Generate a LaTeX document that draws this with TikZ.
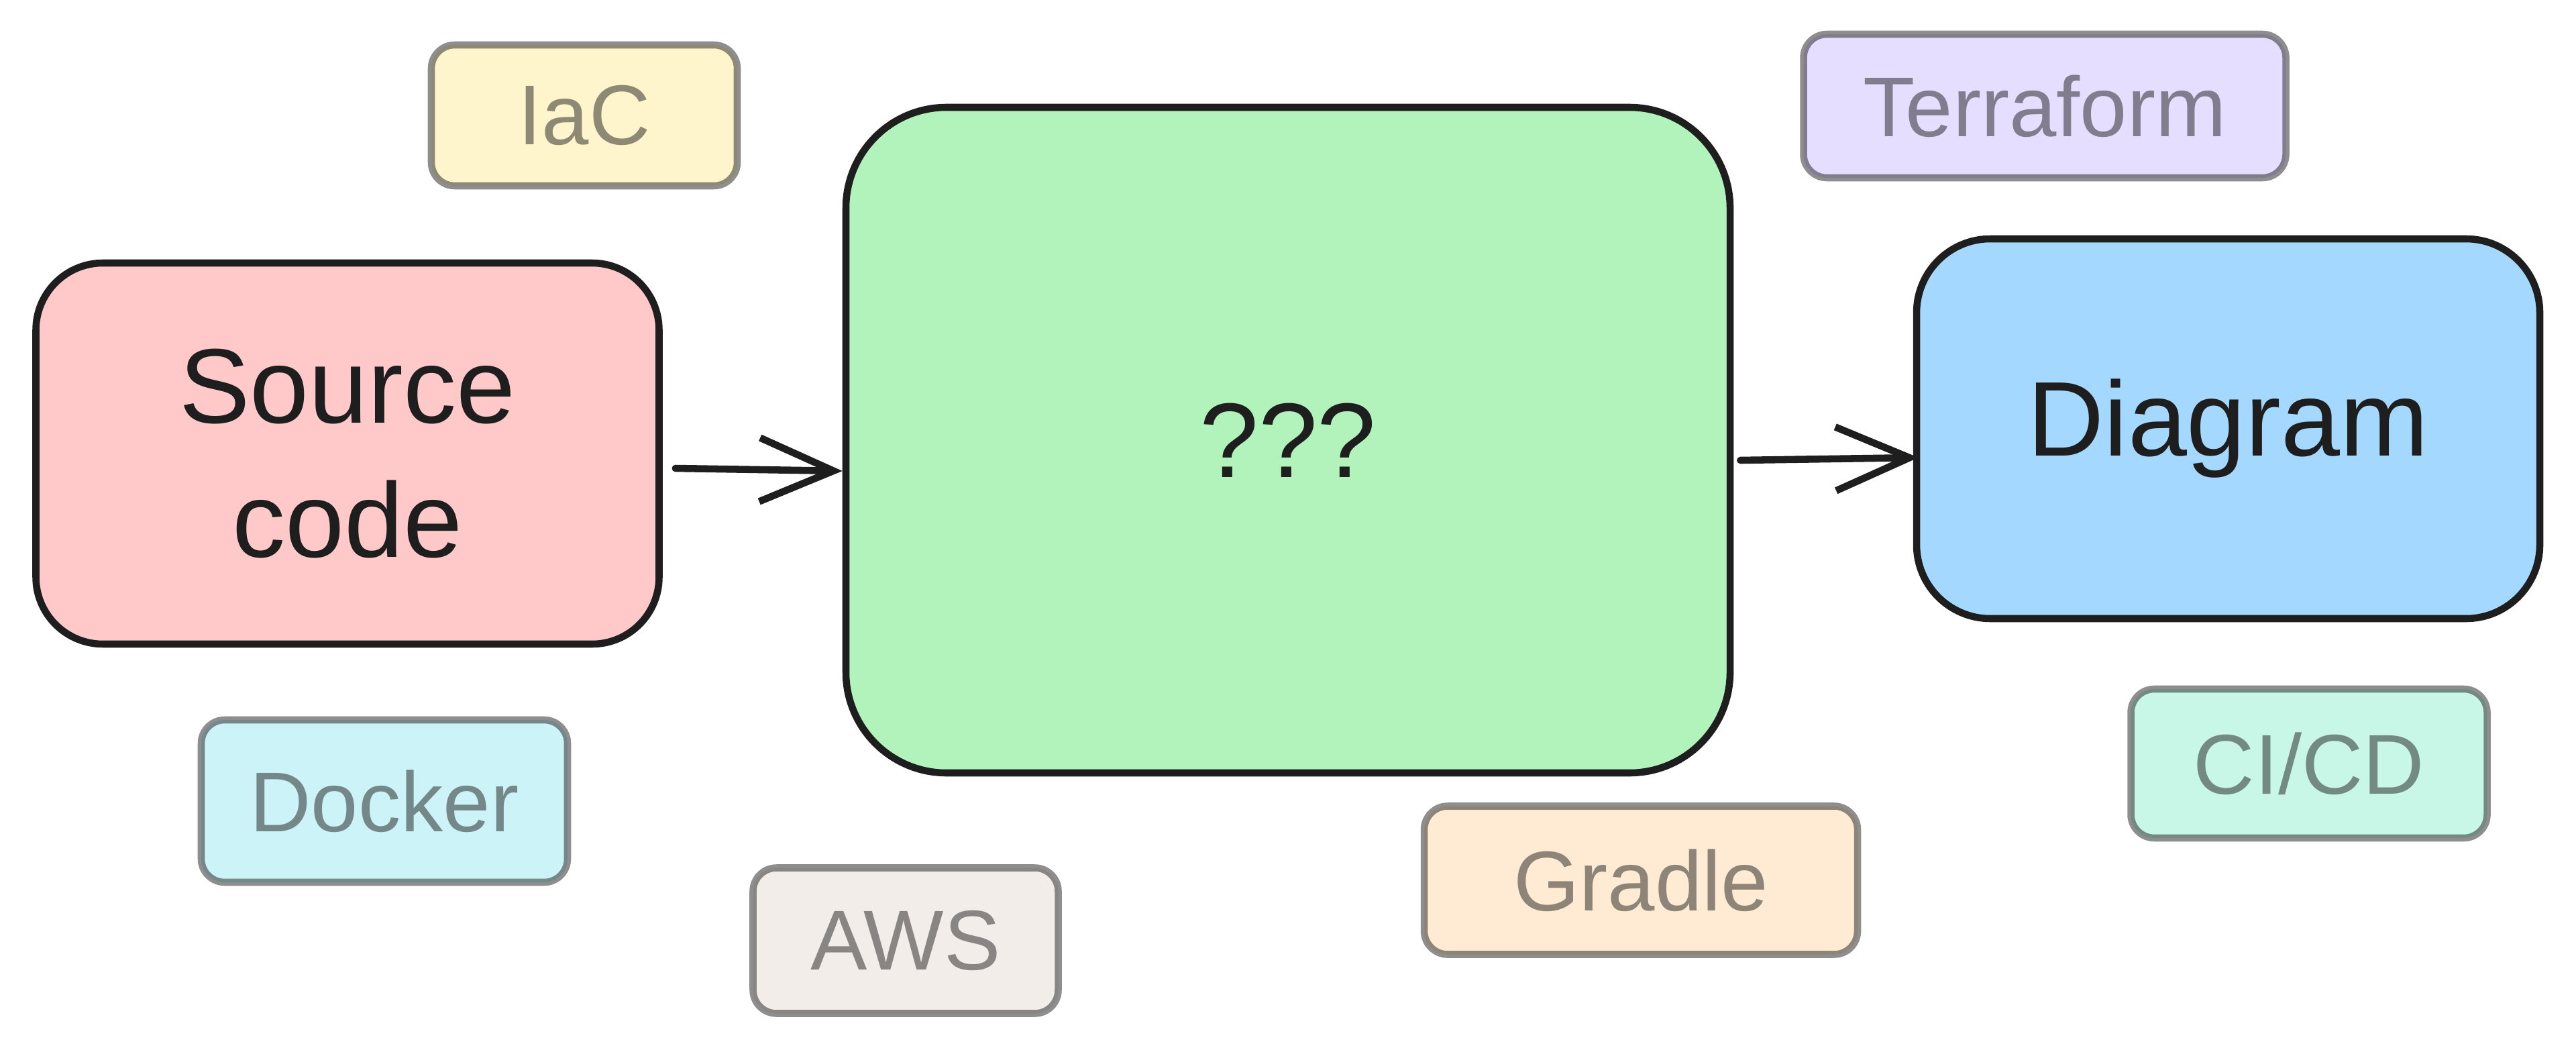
\documentclass[tikz,border=0pt]{standalone}
\usepackage{fontspec}
\setmainfont{Liberation Sans}
\usetikzlibrary{arrows.meta,calc}
\definecolor{ink}{HTML}{1E1E1E}
\definecolor{pinkf}{HTML}{FFC9C9}
\definecolor{greenf}{HTML}{B2F2BB}
\definecolor{bluef}{HTML}{A5D8FF}
\definecolor{yellowf}{HTML}{FFF5CC}
\definecolor{purplef}{HTML}{E6DEFF}
\definecolor{cyanf}{HTML}{CCF3F7}
\definecolor{brownf}{HTML}{F3EDEA}
\definecolor{orangef}{HTML}{FFEBD3}
\definecolor{tealf}{HTML}{C8F7E8}
\begin{document}
\begin{tikzpicture}[x=1cm,y=1cm,
  bigbox/.style={draw=ink, line width=3pt, rounded corners=#1, text=ink,
    font=\fontsize{45}{57}\selectfont, align=center, inner sep=0pt},
  tag/.style={draw=ink, draw opacity=0.5, text opacity=0.5, text=ink,
    line width=3pt, rounded corners=0.35cm,
    font=\fontsize{36}{43}\selectfont, inner sep=0pt},
  flow/.style={draw=ink, line width=3pt, line cap=round,
    -{Straight Barb[length=1.1cm,width=0.95cm,line width=3pt]}}]
\useasboundingbox (0,0) rectangle (38.4,-15.62);

\node[bigbox=1cm, fill=pinkf, minimum width=9.29cm, minimum height=5.68cm] (src) at (5.18,-6.76) {Source\\code};
\node[bigbox=1.5cm, fill=greenf, minimum width=13.18cm, minimum height=9.92cm] (mid) at (19.20,-6.56) {???};
\node[bigbox=1.1cm, fill=bluef, minimum width=9.29cm, minimum height=5.66cm] (diag) at (33.215,-6.39) {Diagram};

\node[tag, fill=yellowf, minimum width=4.56cm, minimum height=2.10cm] (iac) at (8.71,-1.72) {IaC};
\node[tag, fill=purplef, minimum width=7.19cm, minimum height=2.14cm] (tf) at (30.48,-1.58) {Terraform};
\node[tag, fill=cyanf, minimum width=5.46cm, minimum height=2.42cm] (docker) at (5.73,-11.94) {Docker};
\node[tag, fill=brownf, minimum width=4.55cm, minimum height=2.17cm] (aws) at (13.50,-14.02) {AWS};
\node[tag, fill=orangef, minimum width=6.46cm, minimum height=2.21cm] (gradle) at (24.46,-13.12) {Gradle};
\node[tag, fill=tealf, minimum width=5.31cm, minimum height=2.22cm] (cicd) at (34.42,-11.38) {CI/CD};

\draw[flow] ($(src.east)+(0.19,-0.22)$) -- ($(mid.west)+(0,-0.46)$);
\draw[flow] ($(mid.east)+(0.10,-0.30)$) -- ($(diag.west)+(0.08,-0.43)$);
\end{tikzpicture}
\end{document}
